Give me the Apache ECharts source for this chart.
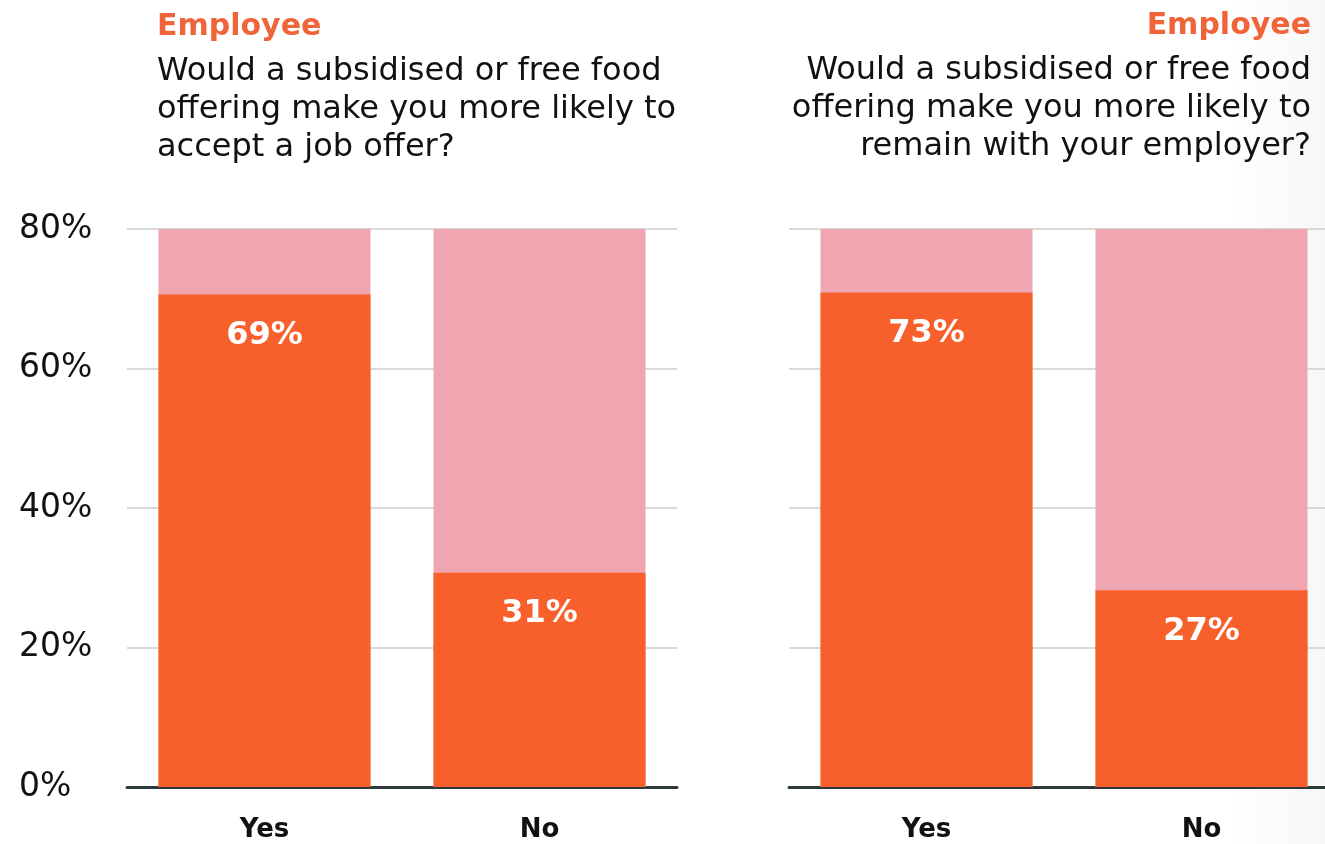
<!DOCTYPE html>
<html><head><meta charset="utf-8">
<script src="https://cdn.jsdelivr.net/npm/echarts@6/dist/echarts.min.js"></script>
<style>html,body{margin:0;padding:0;background:#fff}#c{width:1325px;height:844px}</style>
</head><body><div id="c"></div>
<script>
const categories = ['Yes', 'No'];
const acceptValues = [70.6, 30.7];
const acceptLabels = ['69%', '31%'];
const remainValues = [70.9, 28.2];
const remainLabels = ['73%', '27%'];
const yTicks = [0, 20, 40, 60, 80];
const titleTag = 'Employee';
const leftQuestion = 'Would a subsidised or free food\noffering make you more likely to\naccept a job offer?';
const rightQuestion = 'Would a subsidised or free food\noffering make you more likely to\nremain with your employer?';

const FONT = 'DejaVu Sans';
const ORANGE = '#f7602b';
const PINK = '#f0a6b0';
const TAGCOLOR = '#f0643a';

const chart = echarts.init(document.getElementById('c'));

function xAx(i){
  return {gridIndex:i, type:'category', data:categories,
    axisLine:{show:true, lineStyle:{color:'#2f393b', width:3}},
    axisTick:{show:false},
    axisLabel:{color:'#111', fontFamily:FONT, fontWeight:'bold', fontSize:26, margin:30}};
}
function yAx(i, showLabels){
  return {gridIndex:i, type:'value', min:0, max:80, interval:20,
    axisLine:{show:false}, axisTick:{show:false},
    splitLine:{show:true, lineStyle:{color:'#d9d9d9', width:2}},
    axisLabel:{show:showLabels, color:'#111', fontFamily:FONT, fontSize:33, align:'left', margin:108,
      formatter:v => yTicks.includes(v) ? v + '%' : ''}};
}
function barSeries(i, vals, labels){
  return {type:'bar', xAxisIndex:i, yAxisIndex:i, data:vals, barWidth:212,
    itemStyle:{color:ORANGE},
    showBackground:true, backgroundStyle:{color:PINK},
    label:{show:true, position:'insideTop', distance:25, color:'#fff', fontFamily:FONT, fontWeight:'bold', fontSize:32,
      formatter:p => labels[p.dataIndex]}};
}

chart.setOption({
  animation:false,
  graphic:[
    {type:'rect', left:1225, top:0, shape:{width:100, height:844}, z:-10, silent:true,
      style:{fill:new echarts.graphic.LinearGradient(0,0,1,0,[{offset:0,color:'rgba(0,0,0,0)'},{offset:1,color:'rgba(0,0,0,0.03)'}])}},
    {type:'text', x:157, y:27, silent:true,
      style:{text:titleTag, fill:TAGCOLOR, font:'bold 30px "DejaVu Sans"', textAlign:'left', textVerticalAlign:'middle'}},
    {type:'text', x:157, y:53, silent:true,
      style:{text:leftQuestion, fill:'#111', font:'32px "DejaVu Sans"', lineHeight:38, textAlign:'left', textVerticalAlign:'top'}},
    {type:'text', x:1311, y:26, silent:true,
      style:{text:titleTag, fill:TAGCOLOR, font:'bold 30px "DejaVu Sans"', textAlign:'right', textVerticalAlign:'middle'}},
    {type:'text', x:1311, y:52, silent:true,
      style:{text:rightQuestion, fill:'#111', font:'32px "DejaVu Sans"', lineHeight:38, textAlign:'right', textVerticalAlign:'top'}}
  ],
  grid:[
    {left:127, width:550, top:229, height:558, outerBoundsMode:'none'},
    {left:789, width:550, top:229, height:558, outerBoundsMode:'none'}
  ],
  xAxis:[xAx(0), xAx(1)],
  yAxis:[yAx(0, true), yAx(1, false)],
  series:[barSeries(0, acceptValues, acceptLabels), barSeries(1, remainValues, remainLabels)]
});
</script></body></html>
